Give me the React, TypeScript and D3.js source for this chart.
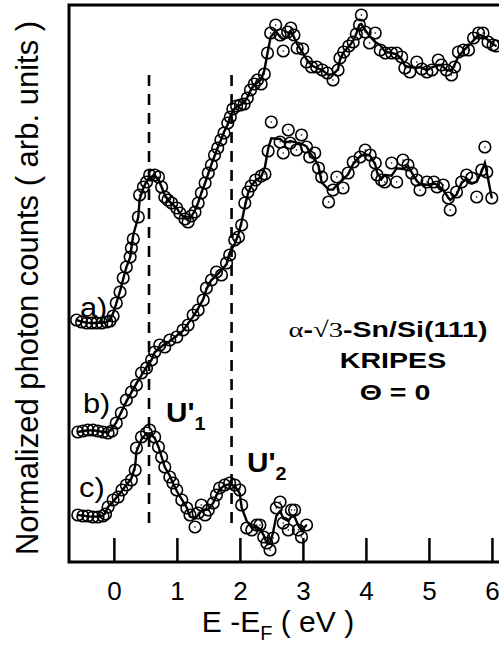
import React from 'react';
import * as d3 from 'd3';

// Spectrum a)
const energyA = [-0.60, -0.52, -0.44, -0.36, -0.28, -0.20, -0.12, -0.07, -0.02, 0.03, 0.09, 0.14, 0.19, 0.25, 0.27, 0.30, 0.38, 0.40, 0.46, 0.51, 0.56, 0.64, 0.70, 0.75, 0.80, 0.85, 0.91, 0.99, 1.04, 1.12, 1.17, 1.22, 1.28, 1.33, 1.38, 1.44, 1.49, 1.54, 1.59, 1.64, 1.69, 1.74, 1.80, 1.84, 1.88, 1.94, 2.00, 2.06, 2.11, 2.16, 2.22, 2.27, 2.33, 2.38, 2.43, 2.48, 2.56, 2.63, 2.68, 2.75, 2.80, 2.85, 2.90, 2.99, 3.05, 3.13, 3.21, 3.30, 3.38, 3.47, 3.55, 3.58, 3.64, 3.72, 3.79, 3.84, 3.89, 3.92, 3.98, 4.05, 4.14, 4.22, 4.30, 4.40, 4.48, 4.56, 4.61, 4.69, 4.80, 4.88, 4.96, 5.04, 5.14, 5.19, 5.27, 5.35, 5.40, 5.46, 5.54, 5.62, 5.70, 5.78, 5.85, 5.93, 6.01, 6.06];
const countsA = [24.2, 24.0, 23.9, 23.9, 23.9, 23.9, 24.0, 24.1, 24.6, 25.9, 27.0, 28.4, 29.5, 30.5, 31.4, 32.3, 34.5, 36.7, 37.5, 38.0, 38.7, 38.7, 38.5, 37.5, 36.5, 36.2, 35.9, 35.4, 34.9, 34.3, 34.0, 34.6, 35.0, 35.9, 36.9, 37.9, 38.9, 39.7, 40.7, 41.4, 42.2, 42.9, 43.9, 44.5, 45.3, 45.6, 45.7, 45.8, 46.4, 47.2, 47.8, 48.2, 47.8, 48.8, 50.9, 52.9, 53.7, 52.7, 51.1, 53.0, 53.4, 52.7, 51.4, 51.3, 50.0, 49.5, 49.5, 49.2, 48.9, 48.2, 49.2, 50.4, 51.0, 51.6, 52.0, 52.8, 53.7, 54.7, 53.0, 51.9, 52.9, 51.2, 50.9, 50.9, 50.9, 50.5, 49.4, 49.0, 50.0, 49.3, 49.0, 49.2, 50.2, 49.7, 49.2, 48.7, 49.5, 51.0, 51.2, 51.2, 52.4, 52.9, 52.9, 52.0, 51.7, 51.6];

// Spectrum b)
const energyB = [-0.58, -0.50, -0.42, -0.34, -0.26, -0.18, -0.10, -0.04, 0.03, 0.11, 0.19, 0.27, 0.35, 0.43, 0.51, 0.59, 0.64, 0.72, 0.80, 0.88, 0.99, 1.09, 1.17, 1.25, 1.33, 1.41, 1.46, 1.54, 1.62, 1.70, 1.78, 1.83, 1.91, 1.97, 2.02, 2.07, 2.12, 2.17, 2.24, 2.33, 2.39, 2.44, 2.49, 2.63, 2.68, 2.76, 2.79, 2.89, 2.97, 3.05, 3.10, 3.18, 3.24, 3.29, 3.40, 3.47, 3.53, 3.63, 3.71, 3.79, 3.90, 3.98, 4.06, 4.14, 4.17, 4.24, 4.29, 4.40, 4.48, 4.58, 4.66, 4.72, 4.80, 4.85, 4.96, 5.07, 5.12, 5.22, 5.30, 5.33, 5.43, 5.51, 5.59, 5.67, 5.75, 5.83, 5.88, 5.91, 5.99];
const countsB = [13.0, 13.1, 13.2, 13.2, 13.1, 13.0, 12.9, 13.1, 13.9, 14.9, 16.2, 17.0, 17.7, 18.9, 19.4, 20.2, 21.0, 21.7, 21.5, 22.2, 22.5, 23.2, 23.7, 24.7, 25.2, 26.2, 27.4, 28.2, 29.0, 28.7, 29.9, 30.7, 32.2, 32.5, 33.7, 35.9, 37.0, 37.6, 38.2, 38.6, 38.8, 41.1, 44.0, 42.0, 40.9, 43.2, 41.9, 41.2, 42.7, 41.5, 40.5, 40.9, 39.4, 38.5, 36.0, 37.2, 38.5, 37.4, 38.9, 40.0, 40.5, 41.2, 40.7, 39.9, 38.7, 38.2, 38.0, 39.9, 38.0, 40.2, 39.7, 38.9, 38.2, 37.2, 38.0, 38.0, 37.5, 37.7, 36.4, 35.2, 37.0, 38.0, 38.7, 38.4, 36.5, 39.2, 41.5, 39.0, 36.4];

// Spectrum c)
const energyC = [-0.58, -0.50, -0.42, -0.34, -0.26, -0.18, -0.14, -0.10, -0.02, 0.06, 0.12, 0.19, 0.27, 0.33, 0.35, 0.43, 0.51, 0.56, 0.64, 0.70, 0.75, 0.80, 0.88, 0.93, 0.99, 1.07, 1.15, 1.20, 1.28, 1.33, 1.38, 1.44, 1.49, 1.57, 1.62, 1.67, 1.75, 1.83, 1.91, 1.99, 2.02, 2.10, 2.18, 2.26, 2.31, 2.37, 2.42, 2.47, 2.52, 2.57, 2.63, 2.68, 2.76, 2.81, 2.86, 2.92, 2.97, 3.05];
const countsC = [4.7, 4.6, 4.6, 4.5, 4.5, 4.6, 4.8, 5.5, 6.2, 6.5, 7.2, 7.7, 8.2, 9.2, 11.4, 12.5, 12.9, 13.2, 12.5, 11.5, 10.5, 9.5, 8.5, 7.9, 7.2, 6.2, 5.4, 4.7, 3.5, 4.9, 5.7, 4.7, 5.2, 5.9, 6.7, 7.4, 7.7, 7.9, 7.7, 7.2, 5.7, 3.4, 3.2, 3.7, 3.7, 2.5, 1.9, 1.2, 2.4, 5.4, 6.0, 3.9, 3.2, 5.2, 5.2, 3.2, 2.5, 3.7];

const xTicks = [0, 1, 2, 3, 4, 5, 6];
const markerEnergies = [0.55, 1.86];
const markerSpan = [48.7, 3.7];

const W = 499;
const H = 652;

const x = d3.scaleLinear().domain([-0.72, 6.12]).range([69, 500]);
const y = d3.scaleLinear().domain([0, 55.7]).range([562, 5]);

function smooth(v: number[]): number[] {
  return v.map((d, i) => (i === 0 || i === v.length - 1 ? d : (v[i - 1] + d + v[i + 1]) / 3));
}

const FONT = "'Liberation Sans', Arial, Helvetica, sans-serif";
const SERIF = "'Liberation Serif', 'DejaVu Serif', serif";

function Spectrum({ ex, cy }: { ex: number[]; cy: number[] }) {
  const sm = smooth(cy);
  const line = d3.line<number>().x((_, i) => x(ex[i])).y((d) => y(d));
  return (
    <g>
      <path d={line(sm) || ''} fill="none" stroke="#000" strokeWidth={2.4} />
      {ex.map((e, i) => (
        <g key={i}>
          <circle cx={x(e)} cy={y(cy[i])} r={5.8} fill="none" stroke="#000" strokeWidth={1.6} />
          <circle cx={x(e)} cy={y(cy[i])} r={0.8} fill="#000" />
        </g>
      ))}
    </g>
  );
}

function Stretched({ cx, cyy, sx, children }: { cx: number; cyy: number; sx: number; children: React.ReactNode }) {
  return <g transform={`translate(${cx},${cyy}) scale(${sx},1)`}>{children}</g>;
}

export default function App() {
  return (
    <svg width={W} height={H} style={{ position: 'absolute', left: 0, top: 0, background: '#fff' }} fontFamily={FONT}>
      <rect x={0} y={0} width={W} height={H} fill="#fff" />
      {markerEnergies.map((e) => (
        <line key={e} x1={x(e)} x2={x(e)} y1={y(markerSpan[0])} y2={y(markerSpan[1])} stroke="#000" strokeWidth={2.6} strokeDasharray="11,8" />
      ))}
      <Spectrum ex={energyA} cy={countsA} />
      <Spectrum ex={energyB} cy={countsB} />
      <Spectrum ex={energyC} cy={countsC} />
      {/* frame */}
      <path d={`M${x.range()[1] + 3},${y(55.7)} H69 V562 H${x.range()[1] + 3}`} fill="none" stroke="#000" strokeWidth={3} />
      {xTicks.map((t) => (
        <g key={t}>
          <line x1={x(t)} x2={x(t)} y1={562} y2={538} stroke="#000" strokeWidth={2.5} />
          <text x={x(t)} y={600} textAnchor="middle" fontSize={26}>{t}</text>
        </g>
      ))}
      <text x={278} y={632} textAnchor="middle" fontSize={30}>
        E -E<tspan fontSize={20} dy={8}>F</tspan><tspan dy={-8}> ( eV )</tspan>
      </text>
      <text transform="translate(38,288) rotate(-90)" textAnchor="middle" fontSize={31}>
        Normalized photon counts ( arb. units )
      </text>
      <Stretched cx={80} cyy={317} sx={1.1}><text fontSize={28}>a)</text></Stretched>
      <Stretched cx={83} cyy={413} sx={1.1}><text fontSize={28}>b)</text></Stretched>
      <Stretched cx={79} cyy={497} sx={1.1}><text fontSize={28}>c)</text></Stretched>
      <Stretched cx={166} cyy={422} sx={1.1}>
        <text fontSize={27} fontWeight="bold">U'<tspan fontSize={18} dy={8}>1</tspan></text>
      </Stretched>
      <Stretched cx={247} cyy={472} sx={1.1}>
        <text fontSize={27} fontWeight="bold">U'<tspan fontSize={18} dy={8}>2</tspan></text>
      </Stretched>
      <g textAnchor="middle" fontSize={22}>
        <Stretched cx={388} cyy={337} sx={1.3}>
          <text>
            <tspan fontFamily={SERIF}>α</tspan><tspan fontWeight="bold">-</tspan><tspan fontFamily={SERIF}>√3</tspan><tspan fontWeight="bold">-Sn/Si(111)</tspan>
          </text>
        </Stretched>
        <Stretched cx={393} cyy={368} sx={1.3}>
          <text fontWeight="bold">KRIPES</text>
        </Stretched>
        <Stretched cx={395} cyy={400} sx={1.3}>
          <text fontWeight="bold">Θ = 0</text>
        </Stretched>
      </g>
    </svg>
  );
}
